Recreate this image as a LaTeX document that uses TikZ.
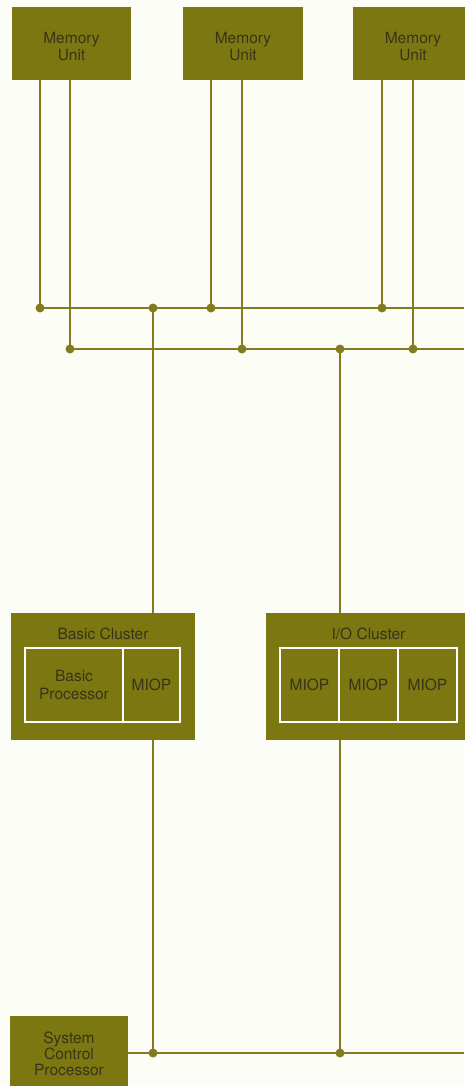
\documentclass[tikz,border=0pt]{standalone}
\usepackage{fontspec}
\setmainfont{TeX Gyre Heros}
\definecolor{olive}{RGB}{125,119,18}
\definecolor{lineol}{RGB}{130,124,30}
\definecolor{txt}{RGB}{55,52,25}
\definecolor{paper}{RGB}{253,253,247}
\tikzset{
  box/.style={fill=olive, draw=none, inner sep=0pt, align=center, text=txt, font=\fontsize{15.5}{17}\selectfont},
  lbl/.style={inner sep=0pt, align=center, text=txt, font=\fontsize{15.5}{17}\selectfont},
  inbox/.style={draw=white, line width=1.8pt, fill=none, inner sep=0pt, align=center, text=txt, font=\fontsize{15.5}{18}\selectfont},
  bus/.style={draw=lineol, line width=2pt},
  dot/.style={circle, fill=lineol, inner sep=0pt, minimum size=9pt},
}
\begin{document}
\begin{tikzpicture}[x=1pt,y=-1pt]
\fill[paper] (0,0) rectangle (464,1086);
\useasboundingbox (0,0) rectangle (464,1086);
% memory units
\node[box, minimum width=119pt, minimum height=73pt] (m1) at (71.5,43.5) {};
\node[box, minimum width=120pt, minimum height=73pt] (m2) at (243,43.5) {};
\node[box, minimum width=120pt, minimum height=73pt] (m3) at (413,43.5) {};
\node[lbl] (m1t) at (71.5,46.5) {Memory\\Unit};
\node[lbl] (m2t) at (243,46.5) {Memory\\Unit};
\node[lbl] (m3t) at (413,46.5) {Memory\\Unit};
% bus coordinates
\coordinate (a1) at (40,308);
\coordinate (a2) at (153,308);
\coordinate (a3) at (211,308);
\coordinate (a4) at (382,308);
\coordinate (aend) at (464,308);
\coordinate (b1) at (70,349);
\coordinate (b2) at (242,349);
\coordinate (b3) at (340,349);
\coordinate (b4) at (413,349);
\coordinate (bend) at (464,349);
% clusters
\node[box, minimum width=184pt, minimum height=127pt] (bc) at (103,676.5) {};
\node[lbl] (bct) at (103,634) {Basic Cluster};
\node[inbox, minimum width=98pt, minimum height=74pt] (bp) at (74,685) {Basic\\Processor};
\node[inbox, minimum width=57pt, minimum height=74pt] (bm) at (151.5,685) {MIOP};
\node[box, minimum width=206pt, minimum height=127pt] (ioc) at (369,676.5) {};
\node[lbl] (ioct) at (368.5,634) {I/O Cluster};
\node[inbox, minimum width=59pt, minimum height=74pt] (io1) at (309.5,685) {MIOP};
\node[inbox, minimum width=59pt, minimum height=74pt] (io2) at (368.5,685) {MIOP};
\node[inbox, minimum width=59pt, minimum height=74pt] (io3) at (427.5,685) {MIOP};
% system control processor
\node[box, minimum width=118pt, minimum height=74pt] (scp) at (69,1053) {};
\node[lbl, font=\fontsize{15.5}{16}\selectfont] (scpt) at (69,1054) {System\\Control\\Processor};
\coordinate (c1) at (153,1053);
\coordinate (c2) at (340,1053);
\coordinate (cend) at (464,1053);
% connectors
\draw[bus] (m1.south -| a1) -- (a1);
\draw[bus] (m1.south -| b1) -- (b1);
\draw[bus] (m2.south -| a3) -- (a3);
\draw[bus] (m2.south -| b2) -- (b2);
\draw[bus] (m3.south -| a4) -- (a4);
\draw[bus] (m3.south -| b4) -- (b4);
\draw[bus] (a1) -- (aend);
\draw[bus] (b1) -- (bend);
\draw[bus] (a2) -- (bc.north -| a2);
\draw[bus] (b3) -- (ioc.north -| b3);
\draw[bus] (bc.south -| c1) -- (c1);
\draw[bus] (ioc.south -| c2) -- (c2);
\draw[bus] (scp.east |- c1) -- (cend);
% junction dots
\foreach \p in {a1,a2,a3,a4,b1,b2,b3,b4,c1,c2}
  \node[dot] at (\p) {};
\end{tikzpicture}
\end{document}
